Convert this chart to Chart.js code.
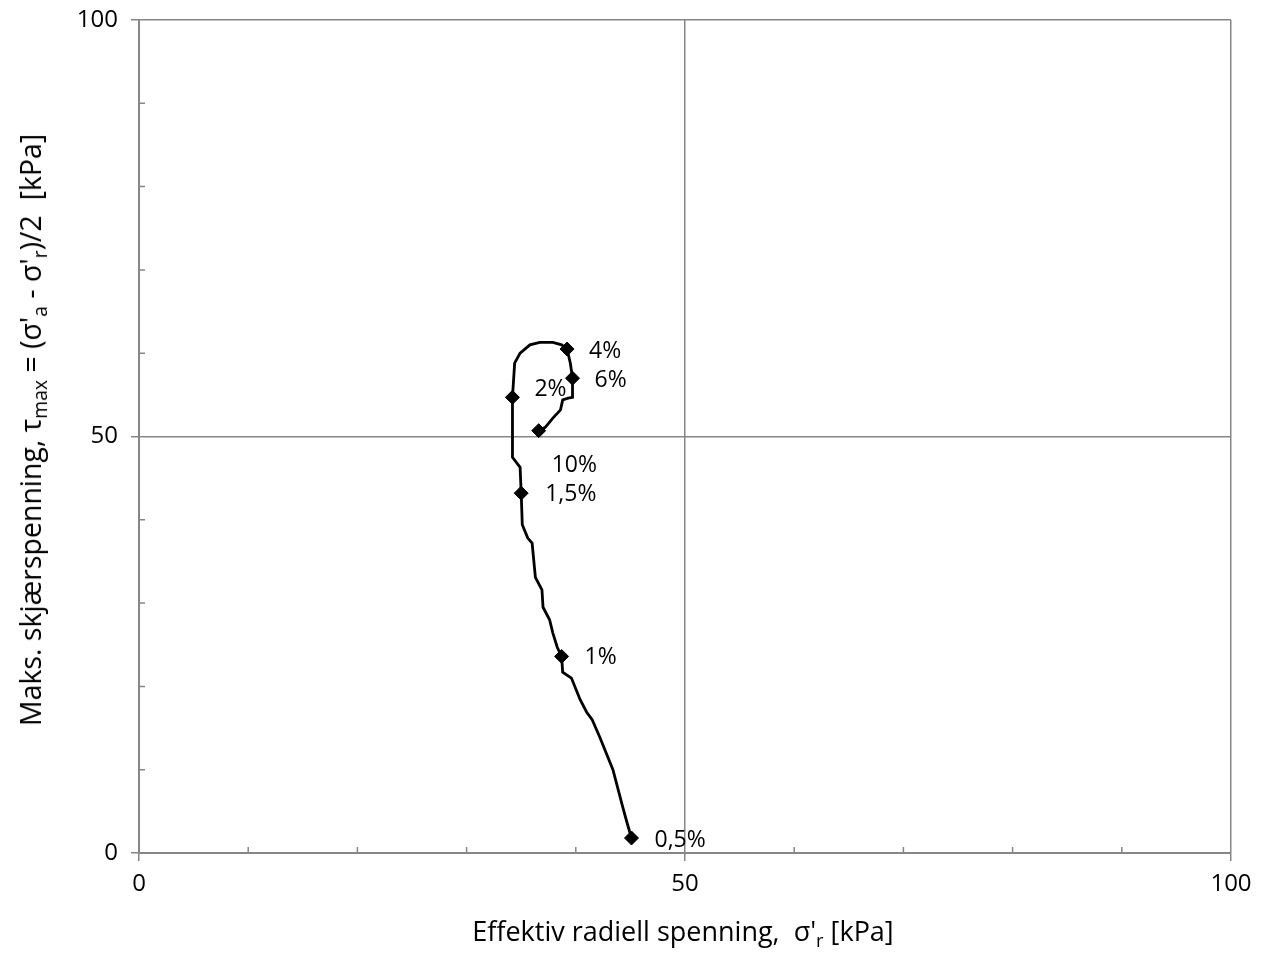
<!DOCTYPE html>
<html>
<head>
<meta charset="utf-8">
<script src="https://cdn.jsdelivr.net/npm/chart.js@4/dist/chart.umd.min.js"></script>
<style>
  body { margin: 0; background: #fff; }
  #wrap { position: relative; width: 1261px; height: 953px; }
  .title { position: absolute; font-family: "Open Sans", sans-serif; color: #000; white-space: nowrap; }
  .title sub { font-size: 68%; vertical-align: -0.3em; line-height: 0; }
  #xtitle { left: 0; width: 1261px; top: 912px; text-align: center; padding-left: 105px; box-sizing: border-box; font-size: 27px; }
  #ytitle { left: 30px; top: 430px; transform: translate(-50%, -50%) rotate(-90deg); font-size: 28.5px; }
</style>
</head>
<body>
<div id="wrap">
  <canvas id="c" width="1261" height="953"></canvas>
  <div class="title" id="xtitle">Effektiv radiell spenning,&nbsp; σ'<sub>r</sub> [kPa]</div>
  <div class="title" id="ytitle">Maks. skjærspenning, τ<sub>max</sub> = (σ'<sub>a</sub> - σ'<sub>r</sub>)/2&nbsp; [kPa]</div>
</div>
<script>
// stress path (sigma'r, tau_max)
const pathX = [45.1, 44.7, 44.3, 43.4, 42.2, 41.5, 41.0, 40.4, 39.6, 38.8, 38.7, 38.3, 37.9, 37.6,
               37.0, 36.9, 36.3, 36.0, 35.6, 35.1, 35.0, 34.9, 34.2, 34.2, 34.2, 34.4, 34.9, 35.8,
               36.7, 37.9, 38.7, 39.2, 39.5, 39.7, 39.7, 39.3, 38.8, 38.6, 37.9, 37.2, 36.6];
const pathY = [1.8, 3.6, 5.5, 10.0, 13.9, 16.0, 16.9, 18.4, 21.0, 21.7, 23.6, 24.7, 26.4, 28.0,
               29.5, 31.6, 33.1, 37.2, 37.8, 39.4, 43.2, 46.3, 47.5, 50.8, 54.7, 58.8, 60.0, 61.0,
               61.3, 61.3, 61.0, 60.5, 58.8, 57.0, 54.7, 54.6, 54.4, 53.2, 52.2, 51.1, 50.7];

// strain markers
const markerLabels = ['0,5%', '1%', '1,5%', '2%', '4%', '6%', '10%'];
const markerX = [45.1, 38.7, 35.0, 34.2, 39.2, 39.7, 36.6];
const markerY = [1.8, 23.6, 43.2, 54.7, 60.5, 57.0, 50.7];

const majorTicks = [0, 50, 100];

// label placement next to each marker (px)
const labelOffsets = [[23, 2], [23, 1], [24, 1], [22, -8], [22, 2], [22, 2], [13, 35]];

const AXIS = '#868686';
const FONT = '"Open Sans", sans-serif';

const isMajor = v => majorTicks.includes(v);

const minorTicks = {
  id: 'minorTicks',
  afterDraw(chart) {
    const ctx = chart.ctx;
    const { x, y } = chart.scales;
    ctx.save();
    ctx.strokeStyle = AXIS;
    ctx.lineWidth = 1.5;
    ctx.beginPath();
    x.ticks.forEach(t => {
      if (isMajor(t.value)) return;
      const px = x.getPixelForValue(t.value);
      ctx.moveTo(px, y.bottom);
      ctx.lineTo(px, y.bottom - 6);
    });
    y.ticks.forEach(t => {
      if (isMajor(t.value)) return;
      const py = y.getPixelForValue(t.value);
      ctx.moveTo(x.left, py);
      ctx.lineTo(x.left + 6, py);
    });
    ctx.stroke();
    ctx.restore();
  }
};

const markerText = {
  id: 'markerText',
  afterDatasetsDraw(chart) {
    const ctx = chart.ctx;
    const meta = chart.getDatasetMeta(1);
    ctx.save();
    ctx.fillStyle = '#000';
    ctx.font = '23px ' + FONT;
    ctx.textAlign = 'left';
    ctx.textBaseline = 'middle';
    meta.data.forEach((pt, i) => {
      const [dx, dy] = labelOffsets[i];
      ctx.fillText(markerLabels[i], pt.x + dx, pt.y + dy);
    });
    ctx.restore();
  }
};

const gridOpts = {
  color: c => isMajor(c.tick.value) ? AXIS : 'rgba(0,0,0,0)',
  tickColor: c => isMajor(c.tick.value) ? AXIS : 'rgba(0,0,0,0)',
  lineWidth: 1.5,
  tickLength: 8,
  drawTicks: true
};

new Chart(document.getElementById('c'), {
  type: 'scatter',
  data: {
    datasets: [
      {
        data: pathX.map((v, i) => ({ x: v, y: pathY[i] })),
        showLine: true,
        borderColor: '#000',
        borderWidth: 2.8,
        pointRadius: 0,
        tension: 0
      },
      {
        data: markerX.map((v, i) => ({ x: v, y: markerY[i] })),
        showLine: false,
        pointStyle: 'rectRot',
        pointRadius: 7,
        backgroundColor: '#000',
        borderColor: '#000'
      }
    ]
  },
  options: {
    responsive: false,
    animation: false,
    layout: { padding: { left: 0, right: 30, top: 20, bottom: 0 } },
    plugins: { legend: { display: false }, tooltip: { enabled: false } },
    scales: {
      x: {
        type: 'linear', min: 0, max: 100,
        afterFit: s => { s.height = 100; s.paddingLeft = 0; s.paddingRight = 0; },
        border: { color: AXIS, width: 2 },
        grid: gridOpts,
        ticks: {
          stepSize: 10, autoSkip: false, maxRotation: 0, padding: 9,
          color: '#000', font: { family: FONT, size: 24 },
          callback: v => isMajor(v) ? v : ''
        }
      },
      y: {
        type: 'linear', min: 0, max: 100,
        afterFit: s => { s.width = 139; s.paddingTop = 0; s.paddingBottom = 0; },
        border: { color: AXIS, width: 2 },
        grid: gridOpts,
        ticks: {
          stepSize: 10, autoSkip: false, padding: 13,
          color: '#000', font: { family: FONT, size: 24 },
          callback: v => isMajor(v) ? v : ''
        }
      }
    }
  },
  plugins: [minorTicks, markerText]
});
</script>
</body>
</html>
